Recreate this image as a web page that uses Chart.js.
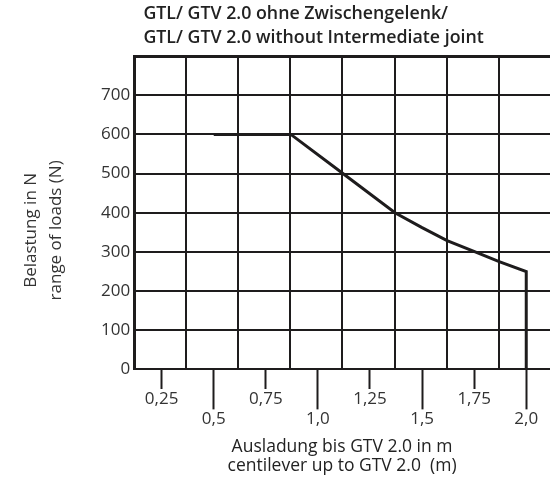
<!DOCTYPE html>
<html>
<head>
<meta charset="utf-8">
<script src="https://cdn.jsdelivr.net/npm/chart.js@4/dist/chart.umd.min.js"></script>
<style>
  html, body { margin: 0; padding: 0; background: #fff; }
  #wrap { width: 550px; height: 483px; }
</style>
</head>
<body>
<div id="wrap"><canvas id="chart"></canvas></div>
<script>
// Belastungskurve (Ausladung in m / Belastung in N)
var ausladung = [0.5, 0.87, 1.12, 1.37, 1.5, 1.62, 1.755, 1.87, 2.0, 2.0];
var belastung = [600, 600, 500, 400, 362, 329, 300, 275, 250, 0];

// Achsenbeschriftung unten
var xTicks = [0.25, 0.5, 0.75, 1.0, 1.25, 1.5, 1.75, 2.0];
var xTickLabels = ['0,25', '0,5', '0,75', '1,0', '1,25', '1,5', '1,75', '2,0'];
var yTicks = [0, 100, 200, 300, 400, 500, 600, 700];

var titel = ['  GTL/ GTV 2.0 ohne Zwischengelenk/', '  GTL/ GTV 2.0 without Intermediate joint'];
var yTitel = ['Belastung in N        ', 'range of loads (N)        '];
var xTitel = ['Ausladung bis GTV 2.0 in m', 'centilever up to GTV 2.0  (m)'];

// das Raster ist gegen die Beschriftung versetzt (wie im Original)
var rasterStart = 0.118;
var xMin = 0.118, xMax = 2.114;
var linie = '#1e1c1d';
var schrift = '#333';

var ctx = document.getElementById('chart').getContext('2d');
new Chart(ctx, {
    type: 'line',
    data: {
        datasets: [{
            data: ausladung.map(function (x, i) { return {x: x, y: belastung[i]}; }),
            borderColor: linie,
            borderWidth: 3,
            pointRadius: 0,
            fill: false,
            tension: 0,
            xAxisID: 'x',
            yAxisID: 'y'
        }]
    },
    options: {
        responsive: true,
        maintainAspectRatio: false,
        animation: false,
        layout: {padding: {left: 19, right: 0, top: 0, bottom: 7}},
        plugins: {
            legend: {display: false},
            tooltip: {enabled: false},
            title: {
                display: true,
                text: titel,
                align: 'start',
                fullSize: false,
                color: '#222',
                font: {family: 'Open Sans', size: 17.8, weight: '600', lineHeight: 1.35},
                padding: {top: 2, bottom: 6}
            }
        },
        scales: {
            xg: {
                type: 'linear',
                position: 'top',
                min: xMin,
                max: xMax,
                afterBuildTicks: function (axis) {
                    var t = [];
                    for (var v = rasterStart; v < xMax - 0.1; v += 0.25) {
                        t.push({value: v});
                    }
                    axis.ticks = t;
                },
                ticks: {display: false},
                grid: {color: linie, lineWidth: 2, drawTicks: false},
                border: {display: false}
            },
            x: {
                type: 'linear',
                position: 'bottom',
                min: xMin,
                max: xMax,
                afterBuildTicks: function (axis) {
                    axis.ticks = xTicks.map(function (v) { return {value: v}; });
                },
                ticks: {
                    autoSkip: false,
                    maxRotation: 0,
                    color: schrift,
                    padding: -20,
                    font: {family: 'Open Sans', size: 17, lineHeight: 1.18},
                    callback: function (value) {
                        var i = xTicks.indexOf(value);
                        var txt = i >= 0 ? xTickLabels[i] : '';
                        // kurze Striche: obere Reihe, lange Striche: untere Reihe
                        return (Math.round(value * 4) % 2 === 1) ? txt : ['', txt];
                    }
                },
                grid: {
                    drawOnChartArea: false,
                    drawTicks: true,
                    tickLength: 40,
                    tickWidth: 2,
                    tickColor: linie,
                    tickBorderDash: function (c) {
                        var v = c.tick ? c.tick.value : 0;
                        return (Math.round(v * 4) % 2 === 1) ? [20, 80] : [];
                    }
                },
                border: {display: false},
                title: {
                    display: true,
                    text: xTitel,
                    color: '#222',
                    font: {family: 'Open Sans', size: 17.5, lineHeight: 1.1},
                    padding: {top: 28, bottom: 0}
                }
            },
            y: {
                min: 0,
                max: 800,
                afterBuildTicks: function (axis) {
                    var t = yTicks.map(function (v) { return {value: v}; });
                    t.push({value: 800});
                    axis.ticks = t;
                },
                ticks: {
                    color: schrift,
                    padding: 4,
                    font: {family: 'Open Sans', size: 17},
                    callback: function (value) { return value < 800 ? String(value) : ''; }
                },
                grid: {
                    color: linie,
                    lineWidth: function (c) { return (c.tick && c.tick.value === 800) ? 3 : 2; },
                    drawTicks: false
                },
                border: {display: true, color: linie, width: 3},
                title: {
                    display: true,
                    text: yTitel,
                    color: '#333',
                    font: {family: 'Open Sans', size: 17, lineHeight: 1.47},
                    padding: {top: 0, bottom: 28}
                }
            }
        }
    }
});
</script>
</body>
</html>
